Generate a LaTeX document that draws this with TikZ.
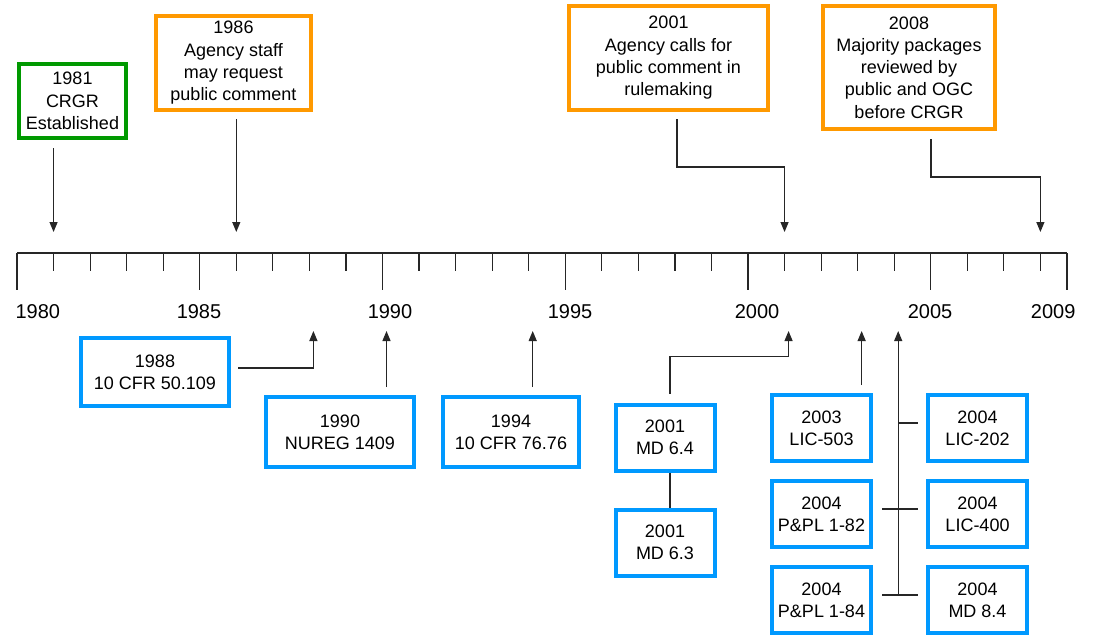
\documentclass[tikz,border=0pt]{standalone}
\usepackage{fontspec}
\setmainfont{Liberation Sans}
\usetikzlibrary{calc}
\usetikzlibrary{positioning}
\usetikzlibrary{arrows.meta}
\definecolor{boxblue}{RGB}{0,153,255}
\definecolor{boxorange}{RGB}{255,153,0}
\definecolor{boxgreen}{RGB}{0,153,0}
\newcommand{\yrx}[1]{17+(#1-1980)*36.55}

\begin{document}
\begin{tikzpicture}[x=1pt, y=-1pt, >={Triangle[length=10pt,width=8pt]}, font=\fontsize{18}{22.3}\selectfont]
    \tikzstyle{event}=[draw, rectangle, line width=4pt, fill=white, align=center, inner sep=0pt]
    \tikzstyle{policy}=[event, draw=boxorange]
    \tikzstyle{rule}=[event, draw=boxblue, minimum width=99pt, minimum height=66pt]
    \tikzstyle{link}=[draw=black!85, line width=1.2pt]
    \tikzstyle{year}=[font=\fontsize{20}{20}\selectfont, anchor=base]

    \useasboundingbox (0,0) rectangle (1097,635);

    % time axis
    \draw[link] (17,253) -- (1067,253);
    \foreach \i in {0,...,28} \draw[link] ({\yrx{1980+\i}},253) -- ++(0,18);
    \foreach \i in {1980,1985,...,2005} \draw[link] ({\yrx{\i}},253) -- ++(0,37);
    \draw[link] (1067,253) -- ++(0,37);

    \node[year, anchor=base west] (lab1980) at (12,318) {1980};
    \foreach \i/\x in {1985/199,1990/390,1995/570,2000/757,2005/930}
        \node[year] (lab\i) at (\x,318) {\i};
    \node[year, anchor=base east] (lab2009) at (1079,318) {2009};

    % arrow tips above and below the axis
    \foreach \y in {1981,1986,2001,2008} \coordinate (t\y) at ({\yrx{\y}},232);
    \foreach \y in {1988,1990,1994,2001,2003,2004} \coordinate (b\y) at ({\yrx{\y}+4},331);

    % events above
    \node[event, draw=boxgreen, minimum width=107pt, minimum height=74pt] (crgr) at (72.5,101) {1981\\CRGR\\Established};
    \node[policy, minimum width=155pt, minimum height=94pt] (staff) at (233.5,63) {1986\\Agency staff\\may request\\public comment};
    \node[policy, minimum width=199pt, minimum height=104pt] (calls) at (668.5,58) {2001\\Agency calls for\\public comment in\\rulemaking};
    \node[policy, minimum width=172pt, minimum height=123pt] (review) at (909,67.5) {2008\\Majority packages\\reviewed by\\public and OGC\\before CRGR};

    % rules below
    \node[rule, minimum width=148pt, minimum height=68pt] (cfr50) at (155,372) {1988\\10 CFR 50.109};
    \node[rule, minimum width=148pt, minimum height=70pt] (nureg) at (340,432) {1990\\NUREG 1409};
    \node[rule, minimum width=136pt, minimum height=70pt, right=25pt of nureg] (cfr76) {1994\\10 CFR 76.76};
    \node[rule] (md64) at (665,437.5) {2001\\MD 6.4};
    \node[rule, below=35pt of md64] (md63) {2001\\MD 6.3};
    \node[rule] (lic503) at (821.5,428) {2003\\LIC-503};
    \node[rule, below=16pt of lic503] (ppl82) {2004\\P\&PL 1-82};
    \node[rule, below=16pt of ppl82] (ppl84) {2004\\P\&PL 1-84};
    \node[rule, right=53pt of lic503] (lic202) {2004\\LIC-202};
    \node[rule, right=53pt of ppl82] (lic400) {2004\\LIC-400};
    \node[rule, right=53pt of ppl84] (md84) {2004\\MD 8.4};

    % connectors above
    \draw[link, ->, shorten <=8pt] (crgr.south -| t1981) -- (t1981);
    \draw[link, ->, shorten <=7pt] (staff.south -| t1986) -- (t1986);
    \draw[link, ->, shorten <=7pt] ([xshift=8.5pt]calls.south) -- ++(0,55) -| (t2001);
    \draw[link, ->, shorten <=8pt] ([xshift=22pt]review.south) -- ++(0,46) -| (t2008);

    % connectors below
    \draw[link, ->, shorten <=7pt] ([yshift=4pt]cfr50.east) -| (b1988);
    \draw[link, ->, shorten <=8pt] (nureg.north -| b1990) -- (b1990);
    \draw[link, ->, shorten <=8pt] (cfr76.north -| b1994) -- (b1994);
    \draw[link, ->, shorten <=9pt] ([xshift=5pt]md64.north) -- ++(0,-46) -| (b2001);
    \draw[link] ([xshift=5pt]md64.south) -- ([xshift=5pt]md63.north);
    \draw[link, ->, shorten <=8pt] (lic503.north -| b2003) -- (b2003);

    \coordinate (hub) at ([yshift=5pt]ppl84.east -| b2004);
    \draw[link, ->] (hub) -- (b2004);
    \draw[link, shorten >=8pt] ([yshift=5pt]lic202.west -| b2004) -- ([yshift=5pt]lic202.west);
    \draw[link, shorten <=9pt, shorten >=8pt] ([yshift=5pt]ppl82.east) -- ([yshift=5pt]lic400.west);
    \draw[link, shorten <=9pt, shorten >=8pt] ([yshift=5pt]ppl84.east) -- ([yshift=5pt]md84.west);
\end{tikzpicture}
\end{document}
